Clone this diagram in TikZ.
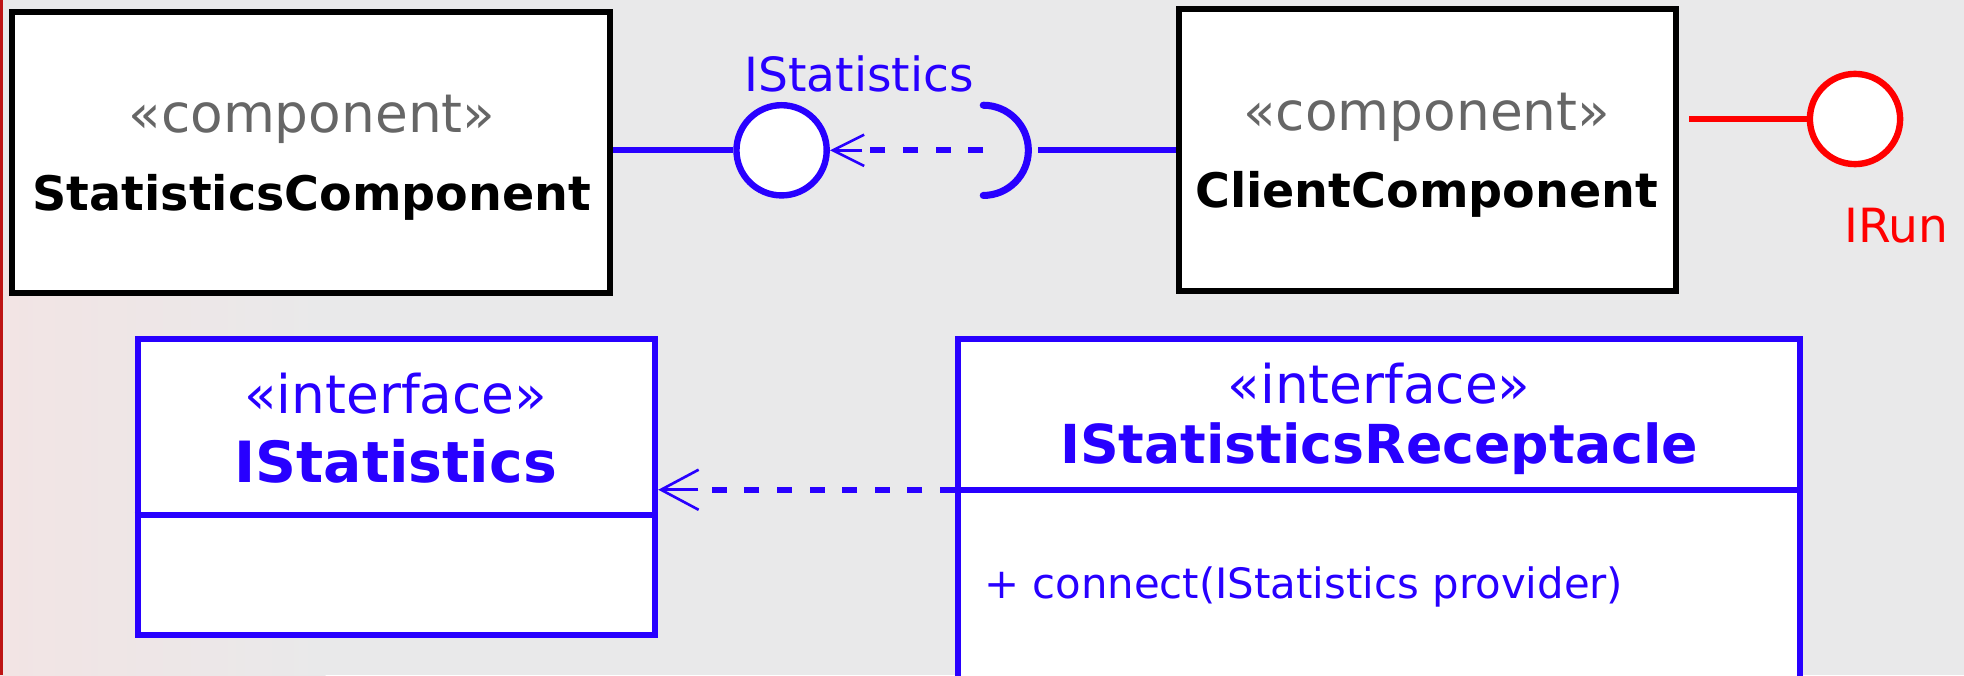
\documentclass[tikz,border=0pt]{standalone}
\usepackage{fontspec}
\setmainfont{DejaVu Sans}
\usetikzlibrary{arrows.meta}
\definecolor{bgc}{RGB}{233,233,234}
\definecolor{pinkbg}{RGB}{242,228,228}
\definecolor{ublue}{RGB}{40,0,255}
\definecolor{ured}{RGB}{255,0,0}
\definecolor{ugray}{RGB}{102,102,102}
\definecolor{edgered}{RGB}{190,20,20}
\tikzset{
  cbox/.style={draw=black, fill=white, line width=1.36pt, rectangle, inner sep=0pt},
  ibox/.style={draw=ublue, fill=white, line width=1.36pt, rectangle, inner sep=0pt},
  bline/.style={draw=ublue, line width=1.36pt},
  rline/.style={draw=ured, line width=1.3pt},
  lolli/.style={circle, fill=white, line width=1.45pt, inner sep=0pt, minimum size=0.72cm},
  depline/.style={draw=ublue, line width=1.36pt, dash pattern=on 3.4pt off 4pt},
  stem/.style={draw=ublue, line width=0.6pt},
  stereo/.style={anchor=base, font=\fontsize{12.1pt}{14pt}\selectfont},
  cname/.style={anchor=base, font=\fontsize{10.8pt}{13pt}\selectfont\bfseries},
}
\begin{document}
\begin{tikzpicture}[x=0.01cm, y=-0.01cm]
\useasboundingbox (0,0) rectangle (1568,539);
\fill[bgc] (0,0) rectangle (1568,539);
\shade[left color=pinkbg, right color=bgc] (0,200) rectangle (260,539);
\fill[edgered] (0,0) rectangle (2.5,539);
\begin{scope}
\clip (0,0) rectangle (1568,539);
% component boxes
\node[cbox, minimum width=4.77cm, minimum height=2.24cm] (sc) at (248.5,122) {};
\node[stereo, text=ugray] (sct) at (249,106) {«component»};
\node[cname] (scn) at (249,168) {StatisticsComponent};

\node[cbox, minimum width=3.97cm, minimum height=2.25cm] (cc) at (1139.5,119.5) {};
\node[stereo, text=ugray] (cct) at (1139,104) {«component»};
\node[cname] (ccn) at (1139,166) {ClientComponent};

% provided interface IStatistics
\node[lolli, draw=ublue] (lol) at (624,120) {};
\node[anchor=base, text=ublue, font=\fontsize{10.7pt}{13pt}\selectfont] (lolt) at (686,73) {IStatistics};
\draw[bline] (sc.east |- lol.west) -- (lol.west);

% required interface socket
\coordinate (sockc) at (785,120);
\coordinate (sockr) at (829,120);
\draw[draw=ublue, line width=1.6pt, line cap=round] (785,84) arc[start angle=90, end angle=-90, radius=0.36cm];
\draw[bline] (sockr) -- (cc.west |- sockr);
\draw[depline] (sockc) -- ([xshift=0.26cm]lol.east);
\draw[stem, -{Straight Barb[length=0.25cm, width=0.25cm, line width=0.6pt]}] ([xshift=0.26cm]lol.east) -- (lol.east);

% IRun
\node[lolli, draw=ured] (irc) at (1481,95) {};
\node[anchor=base, text=ured, font=\fontsize{10.7pt}{13pt}\selectfont] (irt) at (1514,194) {IRun};
\draw[rline] ([xshift=0.08cm]cc.east |- irc.west) -- (irc.west);

% interface IStatistics
\node[ibox, minimum width=4.13cm, minimum height=2.36cm] (isb) at (316.5,389) {};
\coordinate (isdiv) at (0,411);
\draw[bline] (isb.west |- isdiv) -- (isb.east |- isdiv);
\node[stereo, text=ublue] (ist) at (316,330) {«interface»};
\node[anchor=base, text=ublue, font=\fontsize{12.9pt}{15pt}\selectfont\bfseries] (isn) at (316,385) {IStatistics};

% interface IStatisticsReceptacle
\node[ibox, minimum width=6.72cm, minimum height=3.2cm] (rec) at (1101,431) {};
\coordinate (recdiv) at (0,391);
\draw[bline] (rec.west |- recdiv) -- (rec.east |- recdiv);
\node[stereo, text=ublue] (rect) at (1101,322) {«interface»};
\node[anchor=base, text=ublue, font=\fontsize{12.2pt}{15pt}\selectfont\bfseries] (recn) at (1101,370) {IStatisticsReceptacle};
\node[anchor=base west, inner sep=0pt, text=ublue, font=\fontsize{9.5pt}{12pt}\selectfont] (recop) at (785,478) {+ connect(IStatistics provider)};

% dependency
\draw[depline] (rec.west |- recdiv) -- ([xshift=0.32cm]isb.east |- recdiv);
\draw[stem, -{Straight Barb[length=0.3cm, width=0.32cm, line width=0.6pt]}] ([xshift=0.32cm]isb.east |- recdiv) -- (isb.east |- recdiv);
\end{scope}
\end{tikzpicture}
\end{document}
